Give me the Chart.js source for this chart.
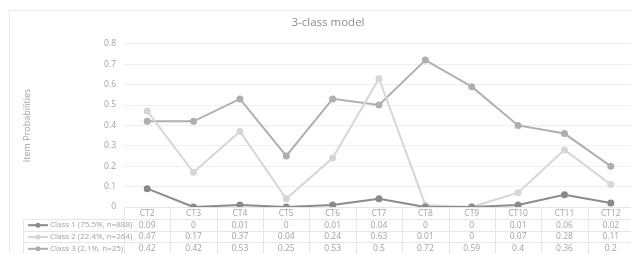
<!DOCTYPE html>
<html>
<head>
<meta charset="utf-8">
<script src="https://cdn.jsdelivr.net/npm/chart.js@4/dist/chart.umd.min.js"></script>
<style>
  html, body { margin: 0; padding: 0; background: #fff; overflow: hidden; }
  #frame { position: absolute; left: 9px; top: 10px; width: 700px; height: 300px; border: 1px solid #ececec; }
  #wrap { position: absolute; left: 0; top: 0; width: 652px; height: 254px; }
</style>
</head>
<body>
<div id="frame"></div>
<div id="wrap"><canvas id="chart" width="652" height="254"></canvas></div>
<script>
// Data
const categories = ["CT2", "CT3", "CT4", "CT5", "CT6", "CT7", "CT8", "CT9", "CT10", "CT11", "CT12"];
const seriesNames = ["Class 1 (75.5%, n=888)", "Class 2 (22.4%, n=264)", "Class 3 (2.1%, n=25)"];
const class1 = [0.09, 0, 0.01, 0, 0.01, 0.04, 0, 0, 0.01, 0.06, 0.02];
const class2 = [0.47, 0.17, 0.37, 0.04, 0.24, 0.63, 0.01, 0, 0.07, 0.28, 0.11];
const class3 = [0.42, 0.42, 0.53, 0.25, 0.53, 0.5, 0.72, 0.59, 0.4, 0.36, 0.2];
const yMax = 0.8;
const yStep = 0.1;

const colors = ["#8a8a8a", "#d6d6d6", "#afafaf"];
const textColor = "#a3a3a3";
const lineColor = "#e6e6e6";
const fontFamily = "'Open Sans', sans-serif";
const rowHeight = 11.8;

// data table under the plot, drawn from the same arrays
const dataTable = {
  id: "dataTable",
  afterDraw(chart) {
    const ctx = chart.ctx;
    const x = chart.scales.x;
    const area = chart.chartArea;
    const step = x.getPixelForValue(1) - x.getPixelForValue(0);
    const left = area.left;
    const right = x.getPixelForValue(categories.length - 1) + step / 2;
    const top = area.bottom;
    const legendLeft = 23;
    const rows = [class1, class2, class3];

    ctx.save();
    ctx.strokeStyle = lineColor;
    ctx.lineWidth = 1;
    // horizontal lines
    ctx.beginPath();
    ctx.moveTo(left, top + 0.5);
    ctx.lineTo(right, top + 0.5);
    for (let r = 1; r <= rows.length + 1; r++) {
      const y = Math.round(top + r * rowHeight) + 0.5;
      ctx.moveTo(legendLeft, y);
      ctx.lineTo(right, y);
    }
    // vertical lines
    for (let i = 0; i <= categories.length; i++) {
      const vx = Math.round(left + i * step) + 0.5;
      ctx.moveTo(vx, top);
      ctx.lineTo(vx, top + (rows.length + 1) * rowHeight);
    }
    ctx.moveTo(legendLeft + 0.5, top + rowHeight);
    ctx.lineTo(legendLeft + 0.5, top + (rows.length + 1) * rowHeight);
    ctx.stroke();

    ctx.fillStyle = textColor;
    ctx.font = "8.5px " + fontFamily;
    ctx.textAlign = "center";
    ctx.textBaseline = "middle";
    categories.forEach((c, i) => {
      ctx.fillText(c, x.getPixelForValue(i), top + rowHeight / 2 + 0.5);
    });
    rows.forEach((vals, r) => {
      const cy = top + (r + 1.5) * rowHeight + 0.5;
      ctx.font = "8.5px " + fontFamily;
      vals.forEach((v, i) => {
        ctx.fillText(String(v), x.getPixelForValue(i), cy);
      });
      // legend key
      ctx.strokeStyle = colors[r];
      ctx.lineWidth = 2;
      ctx.beginPath();
      ctx.moveTo(28, cy);
      ctx.lineTo(48, cy);
      ctx.stroke();
      ctx.fillStyle = colors[r];
      ctx.beginPath();
      ctx.arc(38, cy, 2.5, 0, Math.PI * 2);
      ctx.fill();
      ctx.fillStyle = textColor;
      ctx.textAlign = "left";
      ctx.font = "8px " + fontFamily;
      ctx.fillText(seriesNames[r], 50, cy);
      ctx.textAlign = "center";
    });
    ctx.restore();
  }
};

const seriesData = [class1, class2, class3];
const chart = new Chart(document.getElementById("chart"), {
  type: "line",
  data: {
    labels: categories,
    datasets: seriesData.map((d, i) => ({
      label: seriesNames[i],
      data: d,
      borderColor: colors[i],
      backgroundColor: colors[i],
      borderWidth: 2,
      pointRadius: 2.5,
      pointHoverRadius: 2.5,
      tension: 0
    }))
  },
  options: {
    responsive: false,
    animation: false,
    layout: { padding: { left: 22, right: 18, top: 0, bottom: 47 } },
    plugins: {
      legend: { display: false },
      tooltip: { enabled: false },
      title: {
        display: true,
        text: "3-class model",
        color: "#8c8c8c",
        font: { family: fontFamily, size: 11.5, weight: "normal" },
        padding: { top: 16, bottom: 14 }
      }
    },
    scales: {
      x: {
        display: false,
        offset: true
      },
      y: {
        min: 0,
        max: yMax,
        ticks: {
          stepSize: yStep,
          color: textColor,
          font: { family: fontFamily, size: 8.5 },
          padding: 8,
          callback: v => String(Math.round(v * 10) / 10)
        },
        grid: { color: "#efefef", drawTicks: false },
        border: { display: false },
        title: {
          display: true,
          text: "Item Probabilities",
          color: textColor,
          font: { family: fontFamily, size: 9 },
          padding: 0
        },
        afterFit(scale) { scale.width = 102; }
      }
    }
  },
  plugins: [dataTable]
});
</script>
</body>
</html>
